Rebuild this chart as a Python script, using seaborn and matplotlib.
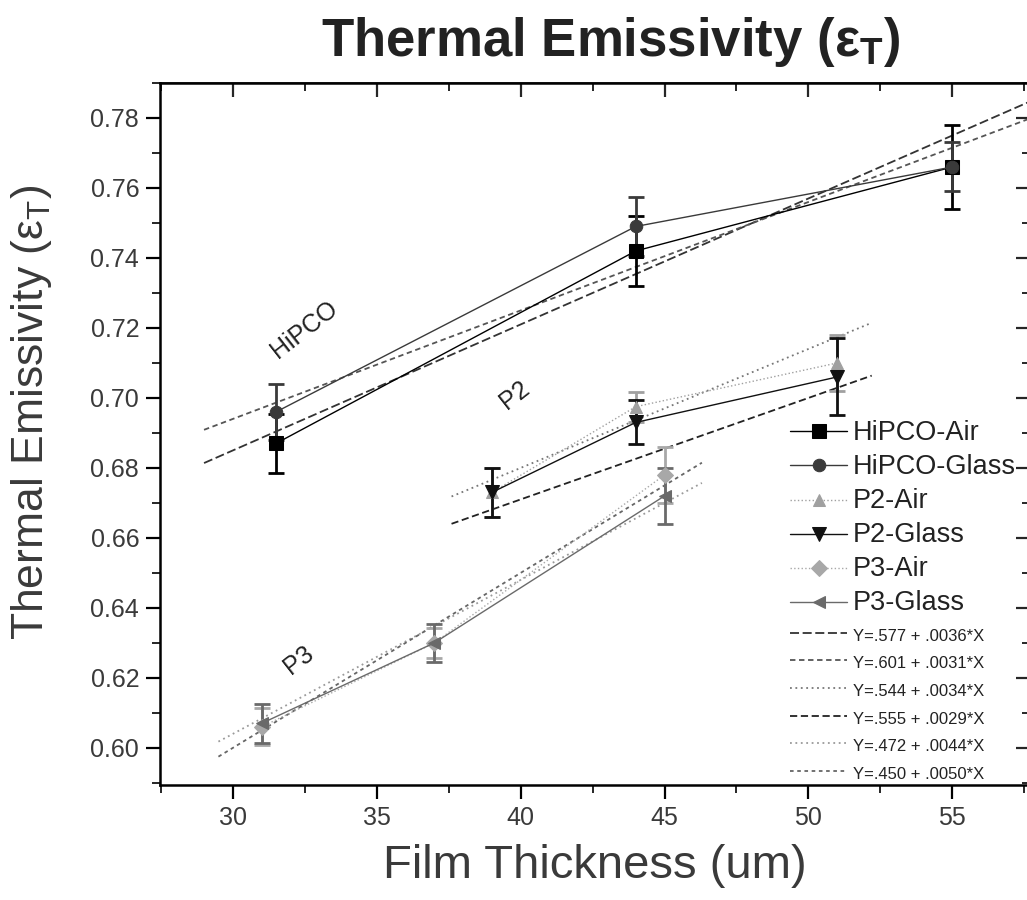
import matplotlib
matplotlib.use("Agg")
import matplotlib.pyplot as plt
import seaborn as sns
import pandas as pd
import numpy as np
from matplotlib.ticker import MultipleLocator

# ---- data ----
series_names = ["HiPCO-Air", "HiPCO-Glass", "P2-Air", "P2-Glass", "P3-Air", "P3-Glass"]
hipco_x = [31.5, 44, 55]
hipco_air_y = [0.687, 0.742, 0.766]
hipco_air_err = [0.0085, 0.010, 0.012]
hipco_glass_y = [0.696, 0.749, 0.766]
hipco_glass_err = [0.008, 0.0085, 0.007]
p2_x = [39, 44, 51]
p2_air_y = [0.673, 0.6975, 0.710]
p2_air_err = [0.007, 0.0043, 0.008]
p2_glass_y = [0.673, 0.693, 0.706]
p2_glass_err = [0.007, 0.0063, 0.011]
p3_x = [31, 37, 45]
p3_air_y = [0.606, 0.630, 0.678]
p3_air_err = [0.0053, 0.0043, 0.008]
p3_glass_y = [0.607, 0.630, 0.672]
p3_glass_err = [0.0055, 0.0055, 0.008]

fit_labels = ["Y=.577 + .0036*X", "Y=.601 + .0031*X", "Y=.544 + .0034*X",
              "Y=.555 + .0029*X", "Y=.472 + .0044*X", "Y=.450 + .0050*X"]
fit_intercepts = [0.577, 0.601, 0.544, 0.555, 0.472, 0.450]
fit_slopes = [0.0036, 0.0031, 0.0034, 0.0029, 0.0044, 0.0050]
fit_x_start = [29.0, 29.0, 37.6, 37.6, 29.5, 29.5]
fit_x_end = [57.8, 57.8, 52.2, 52.2, 46.3, 46.3]

x_ticks = [30, 35, 40, 45, 50, 55]
y_ticks = [0.60, 0.62, 0.64, 0.66, 0.68, 0.70, 0.72, 0.74, 0.76, 0.78]

# ---- style ----
sns.set_theme(style="ticks")
plt.rcParams['font.family'] = ['Liberation Sans', 'DejaVu Sans']

fig = plt.figure(figsize=(10.27, 9.0), dpi=100)
ax = fig.add_axes([160/1027, 1-785/900, 870/1027, 702/900])

series_x = [hipco_x, hipco_x, p2_x, p2_x, p3_x, p3_x]
series_y = [hipco_air_y, hipco_glass_y, p2_air_y, p2_glass_y, p3_air_y, p3_glass_y]
series_err = [hipco_air_err, hipco_glass_err, p2_air_err, p2_glass_err, p3_air_err, p3_glass_err]
colors = ["#000000", "#3a3a3a", "#a0a0a0", "#111111", "#a8a8a8", "#6a6a6a"]
markers = ["s", "o", "^", "v", "D", "<"]
msizes = [10, 9, 9, 10, 8, 9]
series_ls = ["-", "-", ":", "-", ":", "-"]

handles = []
for name, xs, ys, es, c, m, ms, ls in zip(series_names, series_x, series_y, series_err,
                                          colors, markers, msizes, series_ls):
    ax.errorbar(xs, ys, yerr=es, fmt="none", ecolor=c, elinewidth=2.0,
                capsize=6, capthick=2.0, zorder=4)
    df = pd.DataFrame({"x": xs, "y": ys})
    sns.lineplot(data=df, x="x", y="y", ax=ax, color=c, marker=m, markersize=ms,
                 markeredgecolor=c, linewidth=1.0, linestyle=ls, label=name,
                 zorder=5, legend=False)
    handles.append(ax.lines[-1])

fit_colors = ["#333333", "#555555", "#777777", "#222222", "#9a9a9a", "#666666"]
fit_ls = [(0, (5, 2)), (0, (3, 2)), (0, (1, 2)), (0, (4, 2)), (0, (1, 2)), (0, (2, 2))]
for lbl, b0, b1, xs0, xs1, c, ls in zip(fit_labels, fit_intercepts, fit_slopes,
                                        fit_x_start, fit_x_end, fit_colors, fit_ls):
    xs = [xs0, xs1]
    ys = [b0 + b1 * xs0, b0 + b1 * xs1]
    df = pd.DataFrame({"x": xs, "y": ys})
    sns.lineplot(data=df, x="x", y="y", ax=ax, color=c, linestyle=ls, linewidth=1.3,
                 zorder=3, legend=False)
    ln = ax.lines[-1]
    ln.set_label(lbl)
    handles.append(ln)

ax.set_xlim(27.47, 57.7)
ax.set_ylim(0.5894, 0.79)
ax.set_xticks(x_ticks)
ax.set_yticks(y_ticks)
ax.set_xticklabels([str(v) for v in x_ticks])
ax.set_yticklabels([f"{v:.2f}" for v in y_ticks])
ax.xaxis.set_minor_locator(MultipleLocator(2.5))
ax.yaxis.set_minor_locator(MultipleLocator(0.01))
ax.tick_params(axis="both", which="major", labelsize=18, length=10, width=1.6,
               direction="out", color="black", labelcolor="#3a3a3a", pad=5)
ax.tick_params(axis="both", which="minor", length=6, width=1.4, direction="out")
ax.tick_params(top=False, right=False)
for sp in ax.spines.values():
    sp.set_linewidth(1.8)
    sp.set_color("black")
secx = ax.secondary_xaxis("top")
secx.set_xticks(x_ticks)
secx.xaxis.set_minor_locator(MultipleLocator(2.5))
secx.tick_params(which="major", direction="in", length=10, width=1.6, labeltop=False)
secx.tick_params(which="minor", direction="in", length=6, width=1.4)
secy = ax.secondary_yaxis("right")
secy.set_yticks(y_ticks)
secy.yaxis.set_minor_locator(MultipleLocator(0.01))
secy.tick_params(which="major", direction="in", length=10, width=1.6, labelright=False)
secy.tick_params(which="minor", direction="in", length=6, width=1.4)

ax.set_xlabel("Film Thickness (um)", fontsize=34, labelpad=10, color="#3a3a3a")
ax.set_ylabel("Thermal Emissivity (ε$_\\mathregular{T}$)", fontsize=32, color="#3a3a3a")
ax.yaxis.set_label_coords(-0.122, 0.531)
fig.text(0.595, 0.953, "Thermal Emissivity (ε$_\\mathregular{T}$)", fontsize=38,
         fontweight="bold", ha="center", va="center", color="#222222")

ax.text(32.5, 0.7194, "HiPCO", rotation=38, fontsize=18, ha="center", va="center",
        color="#222222")
ax.text(39.8, 0.7009, "P2", rotation=38, fontsize=18, ha="center", va="center",
        color="#222222")
ax.text(32.3, 0.6251, "P3", rotation=38, fontsize=18, ha="center", va="center",
        color="#222222")

leg = ax.legend(handles=handles, loc="upper left", bbox_to_anchor=(0.712, 0.536),
                frameon=False, fontsize=19.5, handlelength=2.1, handleheight=0.4,
                handletextpad=0.2, labelspacing=0.3, borderaxespad=0)
for i, t in enumerate(leg.get_texts()):
    if i >= 6:
        t.set_fontsize(12)
    t.set_color("#222222")

fig.savefig("out.png", dpi=100)
